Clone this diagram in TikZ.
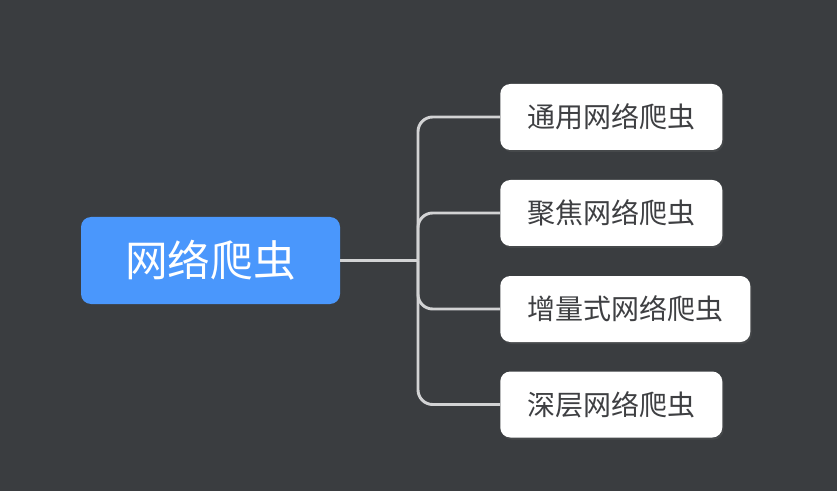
\documentclass[tikz,border=0pt]{standalone}
\usepackage{fontspec}
\newfontfamily\cjk{Noto Sans CJK SC}
\usetikzlibrary{shadows}
\definecolor{bgdark}{HTML}{3A3D40}
\definecolor{rootblue}{HTML}{4A97FC}
\definecolor{linkgray}{HTML}{D2D3D4}
\definecolor{leaftext}{HTML}{3E3F42}
\tikzset{
  rootbox/.style={fill=rootblue, rounded corners=7.5pt, minimum width=194.25pt,
    minimum height=65.25pt, inner sep=0pt, text=white, font=\cjk\fontsize{32}{36}\selectfont},
  leafbox/.style={fill=white, rounded corners=7.5pt, minimum height=49.5pt,
    inner sep=0pt, anchor=west, text=leaftext, font=\cjk\fontsize{21}{25}\selectfont,
    drop shadow={opacity=0.18, shadow xshift=1pt, shadow yshift=-1.5pt}},
  link/.style={draw=linkgray, line width=2.2pt, rounded corners=11pt}
}
\begin{document}
\begin{tikzpicture}[x=0.75pt, y=-0.75pt]
        \fill[bgdark] (0,0) rectangle (837,491);
        \useasboundingbox (0,0) rectangle (837,491);
            \draw (210.5,260.5)node[rootbox, name=root]{网络爬虫};
            \draw (500,117)node[leafbox, minimum width=166.5pt, name=general]{通用网络爬虫};
            \draw (500,213)node[leafbox, minimum width=166.5pt, name=focused]{聚焦网络爬虫};
            \draw (500,309)node[leafbox, minimum width=187.5pt, name=incremental]{增量式网络爬虫};
            \draw (500,404.5)node[leafbox, minimum width=166.5pt, name=deep]{深层网络爬虫};
            \coordinate (hub) at (418,260.5);
            % branches
            \draw[link] (root.east) -- (hub);
            \foreach \leaf in {general, focused, incremental, deep}
                \draw[link] (hub) |- (\leaf.west);
    \end{tikzpicture}
\end{document}
